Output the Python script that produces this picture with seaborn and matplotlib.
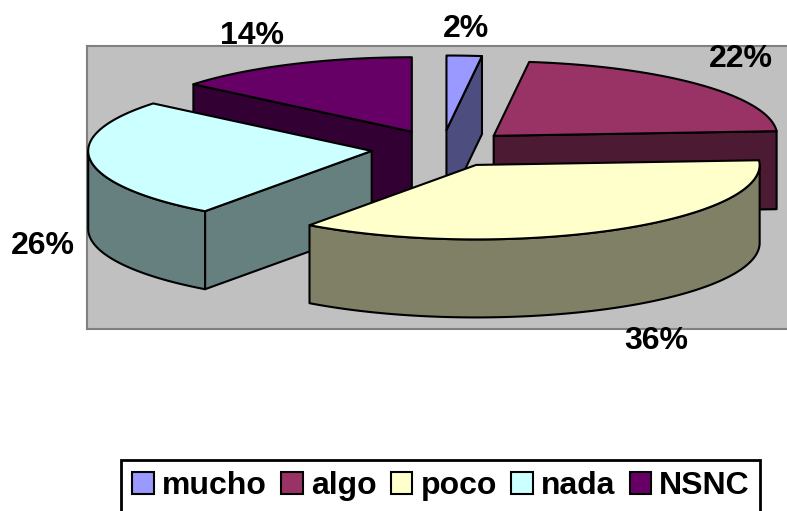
import numpy as np
import matplotlib
matplotlib.use("Agg")
import matplotlib.pyplot as plt
from matplotlib.patches import Polygon, Patch
import seaborn as sns

categories = ["mucho", "algo", "poco", "nada", "NSNC"]
values = [2, 22, 36, 26, 14]
colors = ["#9999FF", "#993366", "#FFFFCC", "#CCFFFF", "#660066"]
draw_order = [0, 1, 4, 3, 2]
label_pos = [(466, 29), (741, 59), (656, 341), (43, 246), (252, 36)]

W, H = 787, 511
CX, CY, RX, RY, DEPTH, EXPLODE = 442, 148.6, 283.5, 74.5, 78, 0.25
LW = 1.5

sns.set_theme(style="white")
plt.rcParams["font.family"] = ["Liberation Sans", "DejaVu Sans"]
palette = sns.color_palette(colors)

fig = plt.figure(figsize=(W / 100, H / 100), dpi=100, facecolor="white")
L, T, R, B = 87, 46, 787, 329
ax = fig.add_axes([L / W, 1 - B / H, (R - L) / W, (B - T) / H])
ax.set_xlim(L, R)
ax.set_ylim(B, T)
ax.set_facecolor("#C0C0C0")
ax.set_xticks([])
ax.set_yticks([])
for s in ax.spines.values():
    s.set_color("#808080")
    s.set_linewidth(1.5)
ax.spines["right"].set_visible(False)


def pt(c, deg):
    t = np.radians(deg)
    return np.column_stack([c[0] + RX * np.sin(t), c[1] - RY * np.cos(t)])


def add(xy, fc, z):
    ax.add_patch(Polygon(xy, closed=True, fc=fc, ec="black", lw=LW, zorder=z,
                         clip_on=False, joinstyle="round"))


edges = np.concatenate([[0], np.cumsum(values)]) / np.sum(values) * 360
for rank, i in enumerate(draw_order):
    a, b = edges[i], edges[i + 1]
    mid = np.radians((a + b) / 2)
    c = (CX + EXPLODE * RX * np.sin(mid), CY - EXPLODE * RY * np.cos(mid))
    col = np.array(palette[i])
    dark = tuple(col * 0.5)
    apex = np.array([c])
    down = np.array([0, DEPTH])
    z = 2 + rank
    # radial walls
    for ang, visible in ((a, np.sin(np.radians(a)) < -1e-6), (b, np.sin(np.radians(b)) > 1e-6)):
        if visible:
            p = pt(c, ang)
            add(np.vstack([apex, p, p + down, apex + down]), dark, z)
    # outer curved wall
    lo, hi = max(a, 90), min(b, 270)
    if hi > lo:
        arc = pt(c, np.linspace(lo, hi, 120))
        add(np.vstack([arc, (arc + down)[::-1]]), dark, z)
    # top face
    arc = pt(c, np.linspace(a, b, 200))
    add(np.vstack([apex, arc]), tuple(col), z)

total = sum(values)
for v, (x, y) in zip(values, label_pos):
    ax.text(x, y, f"{round(100 * v / total)}%", ha="center", va="center",
            fontsize=23, fontweight="bold", color="black", clip_on=False, zorder=20)

handles = [Patch(fc=c, ec="black", lw=1.5) for c in palette]
leg = fig.legend(handles, categories, ncol=5, loc="center",
                 bbox_to_anchor=(441 / W, 1 - 486 / H),
                 prop={"weight": "bold", "size": 23}, frameon=True, fancybox=False,
                 edgecolor="black", facecolor="white", framealpha=1, labelcolor="black",
                 handlelength=0.68, handleheight=0.68, handletextpad=0.25,
                 columnspacing=0.45, borderpad=0.33, borderaxespad=0)
leg.get_frame().set_linewidth(2)
fig.savefig("out.png", dpi=100, facecolor="white")
